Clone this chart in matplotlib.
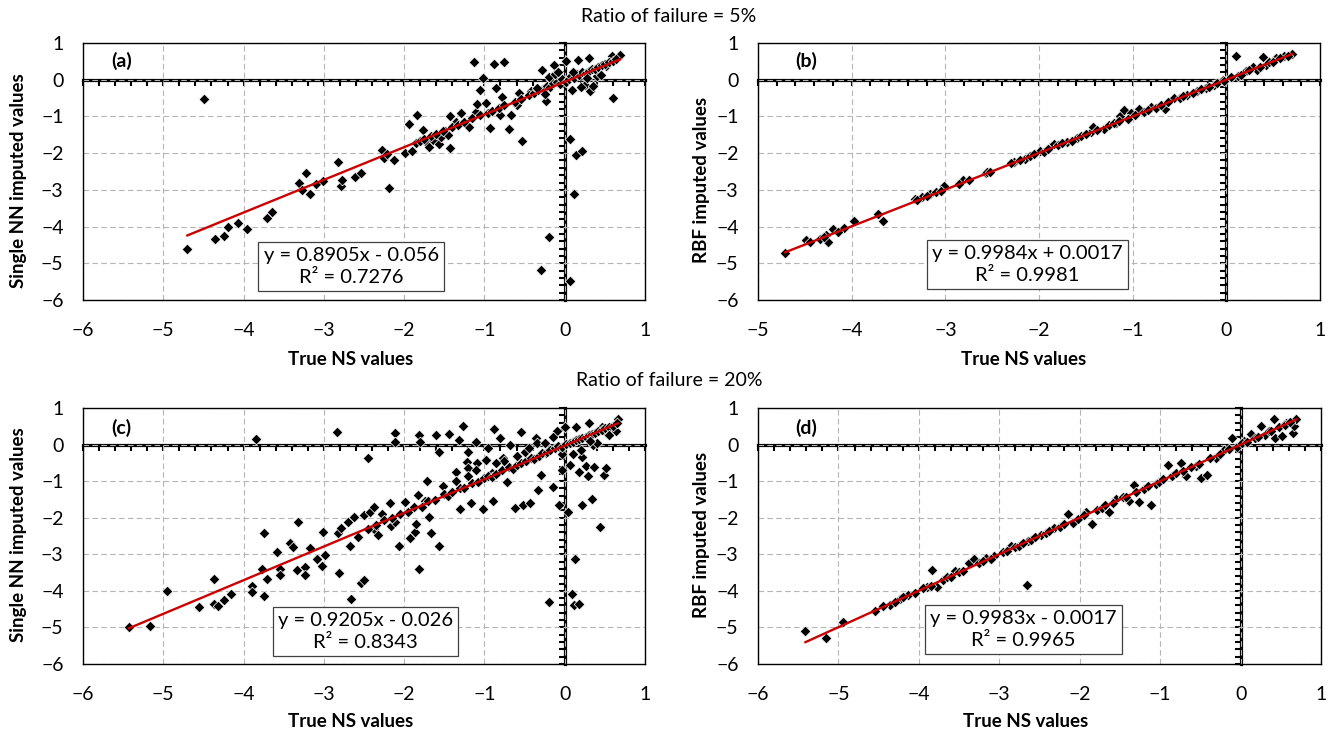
import matplotlib
matplotlib.use("Agg")
import matplotlib.pyplot as plt
from matplotlib.ticker import MultipleLocator

plt.rcParams['font.family'] = ['Lato', 'DejaVu Sans']

# ---- panel (a): single NN, 5% failure ----
a_x = [-4.70, -4.49, -4.35, -4.25, -4.19, -4.07, -3.96, -3.71, -3.65, -3.31, -3.27, -3.22, -3.17,
       -3.10, -3.01, -2.82, -2.79, -2.78, -2.61, -2.54, -2.27, -2.25, -2.21, -2.19, -2.13, -1.99,
       -1.94, -1.90, -1.84, -1.77, -1.72, -1.69, -1.64, -1.56, -1.54, -1.49, -1.45, -1.43, -1.43,
       -1.35, -1.29, -1.19, -1.13, -1.11, -1.09, -1.06, -1.02, -0.98, -0.93, -0.88, -0.85, -0.80,
       -0.78, -0.75, -0.69, -0.67, -0.59, -0.53, -0.57, -0.42, -0.29, -0.20, -0.23, -0.28, -0.13,
       0.01, 0.06, 0.07, 0.12, 0.14, 0.22, 0.09, 0.17, 0.30, 0.32, 0.40, 0.51, 0.59, 0.60, 0.69,
       -1.85, -1.80, -1.75, -1.66, -1.60, -1.52, -1.40, -1.33, -1.25, -1.15, -1.05, -0.95, -0.90,
       -0.82, -0.75, -0.62, -0.55, -0.45, -0.38, -0.33, -0.27, -0.22, -0.18, -0.14, -0.10, -0.06,
       -0.03, 0.02, 0.05, 0.08, 0.12, 0.15, 0.18, 0.22, 0.26, 0.30, 0.34, 0.38, 0.42, 0.46, 0.50,
       0.55, 0.60, 0.64, -0.20, -0.25, 0.25, 0.10, -0.12, 0.20, 0.35, 0.45, -0.35, -0.08, 0.28]
a_y = [-4.62, -0.52, -4.33, -4.27, -4.01, -3.90, -4.07, -3.76, -3.61, -2.80, -3.01, -2.53, -3.12,
       -2.84, -2.77, -2.23, -2.89, -2.73, -2.64, -2.55, -1.91, -2.14, -2.02, -2.94, -2.19, -1.99,
       -1.20, -1.93, -0.95, -1.37, -1.73, -1.82, -1.64, -1.76, -1.55, -1.41, -1.50, -1.85, -0.98,
       -1.16, -0.91, -1.29, 0.48, -0.87, -0.66, -0.27, 0.05, -0.64, -1.32, 0.44, -0.23, -0.96,
       -0.46, 0.48, -1.34, -0.96, -0.68, -1.67, -0.36, -0.32, -5.18, -4.28, -0.57, 0.26, 0.41,
       0.50, -1.62, -5.47, -3.12, -2.05, -1.93, -0.27, 0.55, 0.59, -0.32, 0.09, 0.36, 0.64, -0.49, 0.68,
       -1.72, -1.66, -1.62, -1.52, -1.49, -1.40, -1.28, -1.22, -1.15, -1.05, -0.97, -0.90, -0.85,
       -0.77, -0.70, -0.60, -0.52, -0.42, -0.35, -0.28, -0.25, -0.16, -0.20, -0.10, -0.05, -0.12,
       0.02, -0.05, 0.03, 0.10, 0.05, 0.15, 0.12, 0.20, 0.18, 0.25, 0.30, 0.28, 0.35, 0.40, 0.42,
       0.48, 0.52, 0.56, 0.08, -0.40, -0.15, 0.22, 0.15, -0.20, -0.18, 0.12, -0.22, 0.20, 0.05]

# ---- panel (b): RBF, 5% failure ----
b_x = [-4.71, -4.49, -4.34, -4.27, -4.25, -4.20, -4.08, -3.98, -3.72, -3.67, -3.32, -3.25, -3.16,
       -3.10, -3.01, -2.81, -2.57, -2.55, -2.27, -2.15, -1.99, -1.88, -1.84, -1.70, -1.59, -1.45,
       -1.42, -1.31, -1.18, -1.13, -1.09, -1.02, -0.93, -0.80, -0.66, -0.56, -0.42, -0.31, -0.22,
       -0.13, -0.04, 0.10, 0.12, 0.21, 0.28, 0.39, 0.42, 0.53, 0.62, 0.70, 0.33,
       -4.45, -4.30, -4.15, -3.30, -3.20, -3.05, -2.85, -2.75, -2.52, -2.30, -2.20, -2.10, -2.05,
       -1.95, -1.90, -1.80, -1.75, -1.65, -1.55, -1.50, -1.38, -1.25, -1.20, -1.15, -1.05, -0.98,
       -0.88, -0.84, -0.75, -0.70, -0.62, -0.50, -0.46, -0.36, -0.27, -0.18, -0.10, -0.02, 0.05,
       0.16, 0.24, 0.36, 0.46, 0.50, 0.57, 0.66]
b_y = [-4.73, -4.36, -4.34, -4.22, -4.42, -4.07, -4.04, -3.86, -3.66, -3.84, -3.25, -3.20, -3.11,
       -3.06, -2.90, -2.74, -2.54, -2.51, -2.24, -2.15, -1.94, -1.83, -1.74, -1.69, -1.60, -1.42,
       -1.30, -1.34, -1.19, -0.99, -0.82, -0.91, -0.80, -0.75, -0.80, -0.50, -0.41, -0.32, -0.23,
       -0.14, 0.00, 0.64, 0.11, 0.23, 0.35, 0.62, 0.41, 0.59, 0.64, 0.71, 0.27,
       -4.42, -4.28, -4.14, -3.28, -3.18, -3.04, -2.83, -2.74, -2.50, -2.28, -2.18, -2.09, -2.03,
       -1.96, -1.88, -1.78, -1.72, -1.66, -1.54, -1.48, -1.36, -1.24, -1.18, -1.13, -1.06, -0.96,
       -0.87, -0.83, -0.76, -0.68, -0.61, -0.49, -0.45, -0.37, -0.25, -0.19, -0.08, -0.03, 0.07,
       0.14, 0.26, 0.34, 0.47, 0.49, 0.58, 0.64]

# ---- panel (c): single NN, 20% failure ----
c_x = [-5.43, -5.16, -4.95, -4.55, -4.37, -4.37, -4.32, -4.25, -4.16, -3.90, -3.90, -3.84, -3.77,
       -3.75, -3.75, -3.71, -3.58, -3.55, -3.55, -3.42, -3.38, -3.32, -3.34, -3.23, -3.23, -3.17,
       -3.08, -3.01, -3.02, -2.98, -2.84, -2.83, -2.81, -2.79, -2.70, -2.67, -2.66, -2.62, -2.57,
       -2.54, -2.50, -2.50, -2.45, -2.43, -2.37, -2.37, -2.32, -2.27, -2.16, -2.17, -2.12, -2.11,
       -2.12, -2.06, -1.99, -1.93, -1.87, -1.85, -1.83, -1.81, -1.81, -1.80, -1.74, -1.71, -1.69,
       -1.66, -1.60, -1.56, -1.56, -1.51, -1.44, -1.36, -1.32, -1.31, -1.27, -1.22, -1.20, -1.20,
       -1.17, -1.10, -1.09, -1.02, -0.96, -0.98, -0.88, -0.91, -0.89, -0.81, -0.77, -0.72, -0.68,
       -0.62, -0.55, -0.52, -0.43, -0.36, -0.33, -0.30, -0.23, -0.20, -0.15, -0.09, -0.07, -0.04,
       -0.03, 0.00, 0.04, 0.06, 0.09, 0.12, 0.13, 0.14, 0.18, 0.18, 0.22, 0.22, 0.26, 0.29, 0.30,
       0.34, 0.35, 0.36, 0.44, 0.47, 0.49, 0.51, 0.53, 0.66, 0.64,
       -2.45, -2.35, -2.25, -2.15, -2.05, -1.95, -1.88, -1.78, -1.70, -1.62, -1.50, -1.45, -1.40,
       -1.30, -1.25, -1.15, -1.08, -1.00, -0.95, -0.90, -0.85, -0.78, -0.70, -0.65, -0.60, -0.55,
       -0.48, -0.42, -0.38, -0.32, -0.28, -0.22, -0.18, -0.12, -0.08, -0.04, 0.02, 0.06, 0.10,
       0.14, 0.18, 0.22, 0.26, 0.30, 0.34, 0.38, 0.42, 0.46, 0.50, 0.55, 0.60, 0.65, -0.50, -0.35,
       -0.15, 0.20, 0.40, -0.75, -1.10, -1.35, -0.25, -0.45, -0.60, 0.10, 0.32, 0.55, -0.85, -1.20]
c_y = [-4.99, -4.95, -4.01, -4.45, -3.68, -4.37, -4.41, -4.25, -4.09, -3.87, -4.03, 0.16, -3.41,
       -2.41, -4.14, -3.67, -2.93, -3.39, -3.56, -2.68, -2.79, -2.12, -3.44, -3.35, -3.56, -2.82,
       -3.14, -2.40, -3.32, -3.03, 0.34, -2.42, -3.52, -2.29, -2.12, -2.76, -4.21, -1.99, -2.54,
       -3.78, -3.71, -1.92, -0.36, -1.84, -1.70, -2.31, -2.47, -1.90, -2.22, -1.61, 0.33, 0.08,
       -2.11, -2.78, -1.58, -2.55, -2.38, -2.18, -1.38, -3.39, 0.25, 0.08, -1.55, -1.00, -1.97,
       -2.41, 0.25, -0.19, -2.78, -1.12, 0.28, -0.76, 0.13, -1.76, 0.52, -0.47, -0.19, -0.64,
       -1.61, 0.08, -0.51, -1.76, -0.10, -0.41, 0.43, -0.78, -1.55, 0.17, -0.36, -1.01, -0.01,
       -1.74, 0.34, -1.65, -1.61, 0.17, -1.24, -0.82, -0.24, -4.31, -1.15, 0.36, -1.65, -0.69,
       -0.27, 0.49, -1.84, -0.55, -4.08, -4.40, -3.12, 0.49, -4.35, -0.76, -0.33, -1.65, -0.58,
       -0.87, 0.58, -1.48, -0.01, -0.60, -2.25, 0.49, -0.84, -0.64, 0.31, 0.70, 0.36,
       -2.30, -2.20, -2.05, -2.02, -1.90, -1.85, -1.70, -1.70, -1.55, -1.52, -1.35, -1.40, -1.30,
       -1.18, -1.20, -1.05, -1.02, -0.92, -0.85, -0.88, -0.80, -0.70, -0.62, -0.66, -0.55, -0.50,
       -0.44, -0.38, -0.40, -0.30, -0.22, -0.20, -0.15, -0.10, -0.05, -0.08, 0.02, 0.05, 0.08,
       0.12, 0.15, 0.18, 0.20, 0.25, 0.28, 0.32, 0.36, 0.40, 0.44, 0.48, 0.52, 0.58, -0.20, 0.05,
       0.20, -0.15, 0.05, -0.45, -0.70, -1.00, 0.05, -0.10, -0.30, -0.25, 0.10, 0.25, -0.50, -0.85]

# ---- panel (d): RBF, 20% failure ----
d_x = [-5.41, -5.15, -4.94, -4.55, -4.36, -4.23, -4.13, -3.90, -3.84, -3.77, -3.70, -3.55, -3.38,
       -3.32, -3.17, -3.06, -2.85, -2.66, -2.64, -2.48, -2.32, -2.14, -2.08, -1.92, -1.85, -1.79,
       -1.63, -1.55, -1.39, -1.33, -1.26, -1.11, -1.05, -0.90, -0.74, -0.68, -0.56, -0.49, -0.42,
       -0.31, -0.20, -0.11, 0.04, 0.13, 0.25, 0.30, 0.41, 0.43, 0.52, 0.57, 0.65, 0.67, 0.69,
       -4.45, -4.30, -4.20, -4.05, -3.95, -3.85, -3.65, -3.60, -3.50, -3.45, -3.25, -3.20, -3.10,
       -2.95, -2.90, -2.80, -2.75, -2.70, -2.60, -2.55, -2.42, -2.38, -2.25, -2.20, -2.02, -1.95,
       -1.72, -1.68, -1.58, -1.46, -1.42, -1.30, -1.20, -1.15, -1.02, -0.96, -0.85, -0.80, -0.72,
       -0.62, -0.52, -0.38, -0.26, -0.15, -0.05, 0.02, 0.08, 0.18, 0.22, 0.35, 0.38, 0.48, 0.55, 0.62]
d_y = [-5.09, -5.29, -4.86, -4.56, -4.39, -4.21, -4.10, -3.90, -3.42, -3.90, -3.69, -3.46, -3.24,
       -3.13, -3.10, -3.05, -2.78, -3.83, -2.64, -2.48, -2.28, -1.90, -2.14, -1.84, -2.16, -1.78,
       -1.84, -1.50, -1.55, -1.11, -1.57, -1.64, -1.09, -0.55, -0.50, -0.87, -0.59, -0.91, -0.82,
       -0.36, -0.14, 0.18, 0.09, 0.29, 0.50, 0.27, 0.71, 0.18, 0.23, 0.59, 0.32, 0.50, 0.71,
       -4.42, -4.31, -4.18, -4.06, -3.93, -3.86, -3.63, -3.62, -3.48, -3.46, -3.24, -3.19, -3.12,
       -2.94, -2.91, -2.79, -2.76, -2.68, -2.61, -2.53, -2.43, -2.36, -2.26, -2.18, -2.03, -1.93,
       -1.73, -1.66, -1.59, -1.44, -1.43, -1.29, -1.22, -1.13, -1.03, -0.95, -0.86, -0.78, -0.73,
       -0.60, -0.53, -0.37, -0.27, -0.13, -0.06, 0.03, 0.06, 0.19, 0.20, 0.36, 0.36, 0.49, 0.53, 0.63]

slopes = [0.8905, 0.9984, 0.9205, 0.9983]
intercepts = [-0.056, 0.0017, -0.026, -0.0017]
eq_labels = ["y = 0.8905x - 0.056\nR² = 0.7276",
             "y = 0.9984x + 0.0017\nR² = 0.9981",
             "y = 0.9205x - 0.026\nR² = 0.8343",
             "y = 0.9983x - 0.0017\nR² = 0.9965"]
panel_tags = ["(a)", "(b)", "(c)", "(d)"]
y_labels = ["Single NN imputed values", "RBF imputed values",
            "Single NN imputed values", "RBF imputed values"]
x_ranges = [(-6, 1), (-5, 1), (-6, 1), (-6, 1)]
y_range = (-6, 1)

xs = [a_x, b_x, c_x, d_x]
ys = [a_y, b_y, c_y, d_y]

W, H = 1339, 738
fig = plt.figure(figsize=(W / 100, H / 100), dpi=100)

# axes boxes in pixels: left, top, right, bottom
boxes = [(83, 43, 645, 300), (758, 43, 1320, 300), (83, 408, 645, 664), (758, 408, 1321, 664)]
eq_pos = [(0.477, 0.130), (0.479, 0.138), (0.503, 0.127), (0.472, 0.135)]
tag_pos = [(0.069, 0.93), (0.085, 0.93), (0.069, 0.922), (0.085, 0.922)]
ylab_pos = [(-0.115, 0.465), (-0.100, 0.469), (-0.114, 0.504), (-0.100, 0.506)]
xlab_pos = [(0.477, -0.233), (0.473, -0.233), (0.477, -0.223), (0.476, -0.223)]

red = '#CC0000'

for i in range(4):
    l, t, r, b = boxes[i]
    ax = fig.add_axes([l / W, (H - b) / H, (r - l) / W, (b - t) / H])
    xlo, xhi = x_ranges[i]
    ax.set_xlim(xlo, xhi)
    ax.set_ylim(*y_range)
    ax.set_xticks(range(xlo, xhi + 1))
    ax.set_yticks(range(y_range[0], y_range[1] + 1))
    ax.tick_params(length=0, labelsize=14)
    ax.tick_params(axis='x', pad=16)
    ax.tick_params(axis='y', pad=14)
    ax.grid(True, color='#B5B5B5', linestyle=(0, (5, 3)), linewidth=0.8, zorder=0)
    ax.set_axisbelow(True)
    for sp in ax.spines.values():
        sp.set_linewidth(1.0)
        sp.set_color('black')

    # zero axes with minor tick marks, as in the spreadsheet chart
    fy = (0 - y_range[0]) / (y_range[1] - y_range[0])
    sx = ax.secondary_xaxis(fy)
    sx.set_alignment('bottom')
    sx.spines['bottom'].set_linewidth(2.3)
    sx.xaxis.set_major_locator(MultipleLocator(0.2))
    sx.tick_params(axis='x', direction='out', length=4, width=1.5,
                   labelbottom=False, labeltop=False)
    fx = (0 - xlo) / (xhi - xlo)
    sy = ax.secondary_yaxis(fx)
    sy.set_alignment('left')
    sy.spines['left'].set_linewidth(2.3)
    sy.yaxis.set_major_locator(MultipleLocator(0.2))
    sy.tick_params(axis='y', direction='out', length=4, width=1.5,
                   labelleft=False, labelright=False)

    ax.scatter(xs[i], ys[i], marker='D', s=30, c='black', edgecolors='white',
               linewidths=0.5, zorder=3)
    x0, x1 = min(xs[i]), max(xs[i])
    ax.plot([x0, x1], [slopes[i] * x0 + intercepts[i], slopes[i] * x1 + intercepts[i]],
            color=red, lw=1.7, zorder=4)

    ax.text(*eq_pos[i], eq_labels[i], transform=ax.transAxes, ha='center', va='center',
            fontsize=14.5, linespacing=1.4, zorder=6,
            bbox=dict(boxstyle='square,pad=0.25', fc='white', ec='#404040', lw=0.9))
    ax.text(*tag_pos[i], panel_tags[i], transform=ax.transAxes, ha='center', va='center',
            fontsize=14, fontweight='bold')

    ax.set_ylabel(y_labels[i], fontsize=13.5, fontweight='bold')
    ax.yaxis.label.set_va('center')
    ax.yaxis.set_label_coords(*ylab_pos[i])
    ax.set_xlabel("True NS values", fontsize=13.5, fontweight='bold')
    ax.xaxis.label.set_va('center')
    ax.xaxis.set_label_coords(*xlab_pos[i])

fig.text(669 / W, 1 - 17 / H, "Ratio of failure = 5%", ha='center', va='center', fontsize=14)
fig.text(669 / W, 1 - 381 / H, "Ratio of failure = 20%", ha='center', va='center', fontsize=14)

fig.savefig("out.png", dpi=100)
